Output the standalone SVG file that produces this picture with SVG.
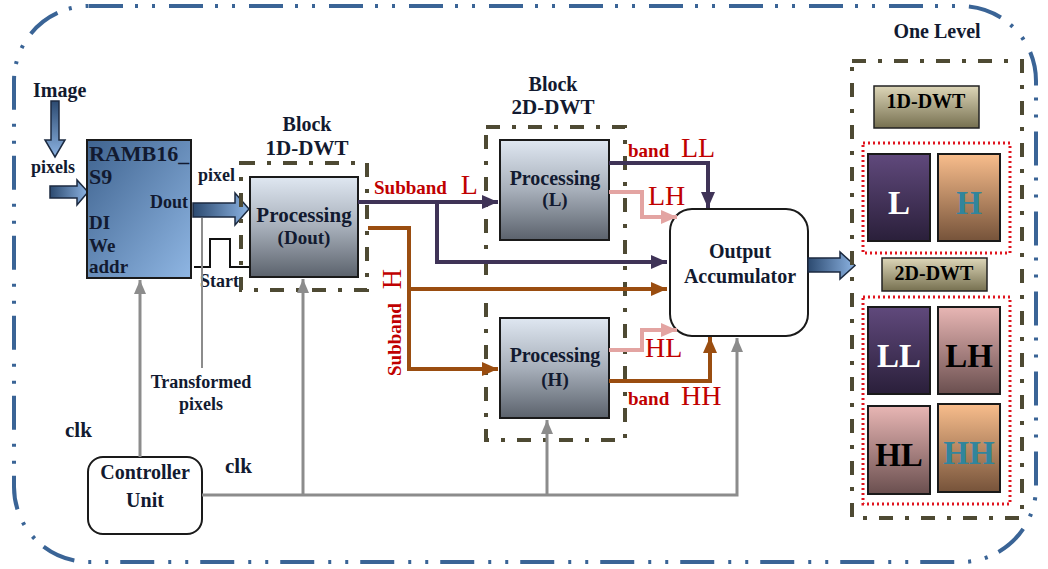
<svg xmlns="http://www.w3.org/2000/svg" width="1048" height="569" viewBox="0 0 1048 569">
<defs>
<linearGradient id="gRam" x1="0" y1="0" x2="1" y2="1"><stop offset="0" stop-color="#3f638f"/><stop offset="1" stop-color="#8fb6e3"/></linearGradient>
<linearGradient id="gArrH" x1="0" y1="0" x2="1" y2="0"><stop offset="0" stop-color="#2c4a70"/><stop offset="1" stop-color="#8cb3e2"/></linearGradient>
<linearGradient id="gArrV" x1="0" y1="0" x2="0" y2="1"><stop offset="0" stop-color="#2c4a70"/><stop offset="1" stop-color="#8cb3e2"/></linearGradient>
<linearGradient id="gProc" x1="0" y1="0" x2="0" y2="1"><stop offset="0" stop-color="#dfe7f1"/><stop offset="0.5" stop-color="#a7afba"/><stop offset="1" stop-color="#5b626c"/></linearGradient>
<linearGradient id="gTan" x1="0" y1="0" x2="0" y2="1"><stop offset="0" stop-color="#ddd6b8"/><stop offset="1" stop-color="#767050"/></linearGradient>
<linearGradient id="gPur" x1="0" y1="0" x2="0" y2="1"><stop offset="0" stop-color="#60497c"/><stop offset="1" stop-color="#2a1f3a"/></linearGradient>
<linearGradient id="gOra" x1="0" y1="0" x2="0" y2="1"><stop offset="0" stop-color="#f8bd8c"/><stop offset="1" stop-color="#76533a"/></linearGradient>
<linearGradient id="gPink" x1="0" y1="0" x2="0" y2="1"><stop offset="0" stop-color="#e8b6b4"/><stop offset="1" stop-color="#6a4f4f"/></linearGradient>
<marker id="mPur" markerUnits="userSpaceOnUse" markerWidth="18" markerHeight="16" refX="16" refY="8" orient="auto"><path d="M0,1 L16,8 L0,15 Z" fill="#3f3357"/></marker>
<marker id="mBrn" markerUnits="userSpaceOnUse" markerWidth="18" markerHeight="16" refX="16" refY="8" orient="auto"><path d="M0,1 L16,8 L0,15 Z" fill="#9a4d10"/></marker>
<marker id="mPnk" markerUnits="userSpaceOnUse" markerWidth="18" markerHeight="16" refX="16" refY="8" orient="auto"><path d="M0,1 L16,8 L0,15 Z" fill="#e3a4a2"/></marker>
<marker id="mGry" markerUnits="userSpaceOnUse" markerWidth="16" markerHeight="14" refX="14" refY="7" orient="auto"><path d="M0,1 L14,7 L0,13 Z" fill="#8c8c8c"/></marker>
</defs>
<style>
text{font-family:"Liberation Serif","Times New Roman",serif;font-weight:bold;fill:#121a30}
.c{text-anchor:middle}
.red{fill:#c00000}
.big{font-size:28px;font-weight:normal}
.wht{fill:#fff}
.blkt{fill:#000}
.teal{fill:#31859c}
.olive{fill:none;stroke:#4e4a33;stroke-width:4;stroke-dasharray:14 12 4 12}
.proc{fill:url(#gProc);stroke:#1a1a1a;stroke-width:2}
.pur{fill:none;stroke:#3f3357;stroke-width:4}
.brn{fill:none;stroke:#9a4d10;stroke-width:4}
.pnk{fill:none;stroke:#e3a4a2;stroke-width:4}
.gry{fill:none;stroke:#8c8c8c;stroke-width:3}
.blk{stroke:#1c2a40;stroke-width:1.5}
.dot{fill:none;stroke:#e0141e;stroke-width:3;stroke-dasharray:2 3}
.cell{stroke:#1a1a1a;stroke-width:2}
</style>

<rect id="frame" x="14" y="6" width="1022" height="556" rx="75" fill="none" stroke="#3a6496" stroke-width="4" stroke-dasharray="34 12 3 14 3 14"/>

<g id="image-input">
<text x="33" y="97" font-size="20">Image</text>
<path class="blk" d="M51,101 H59 V140 H65 L55,157 L45,140 H51 Z" fill="url(#gArrV)"/>
<text x="31" y="173" font-size="18">pixels</text>
<path class="blk" d="M50,186 H77 V180 L88,192 L77,205 V198 H50 Z" fill="url(#gArrH)"/>
</g>

<g id="ramb">
<rect x="87" y="140" width="104" height="138" fill="url(#gRam)" stroke="#1a1a1a" stroke-width="2"/>
<text x="89" y="161" font-size="22">RAMB16_</text>
<text x="89" y="184" font-size="22">S9</text>
<text x="188" y="208" font-size="18" text-anchor="end">Dout</text>
<text x="89" y="229" font-size="19">DI</text>
<text x="89" y="252" font-size="19">We</text>
<text x="89" y="273" font-size="19">addr</text>
</g>

<g id="dout-arrow">
<text x="198" y="181" font-size="18">pixel</text>
<path class="blk" d="M193,203 H235 V193 L249,209 L235,225 V217 H193 Z" fill="url(#gArrH)"/>
<path d="M194,267 H210 V239 H230 V267 H250" fill="none" stroke="#111" stroke-width="2"/>
<text x="200" y="287" font-size="18">Start</text>
<line x1="202" y1="218" x2="202" y2="368" stroke="#8c8c8c" stroke-width="2"/>
<text class="c" x="201" y="388" font-size="18">Transformed</text>
<text class="c" x="201" y="410" font-size="18">pixels</text>
</g>

<g id="block-1d">
<text class="c" x="307" y="131" font-size="20">Block</text>
<text class="c" x="307" y="155" font-size="21">1D-DWT</text>
<rect class="olive" x="241" y="163" width="126" height="127"/>
<rect class="proc" x="250" y="177" width="108" height="100"/>
<text class="c" x="304" y="222" font-size="21">Processing</text>
<text class="c" x="304" y="244" font-size="19">(Dout)</text>
</g>

<g id="block-2d">
<text class="c" x="553" y="91" font-size="20">Block</text>
<text class="c" x="553" y="114" font-size="21">2D-DWT</text>
<rect class="olive" x="486" y="127" width="139" height="313"/>
<g id="proc-l">
<rect class="proc" x="500" y="140" width="109" height="100"/>
<text class="c" x="555" y="185" font-size="20">Processing</text>
<text class="c" x="555" y="206" font-size="19">(L)</text>
</g>
<g id="proc-h">
<rect class="proc" x="500" y="318" width="109" height="100"/>
<text class="c" x="555" y="362" font-size="20">Processing</text>
<text class="c" x="555" y="386" font-size="19">(H)</text>
</g>
</g>

<g id="accumulator">
<rect x="670" y="209" width="138" height="127" rx="22" fill="#fff" stroke="#1a1a1a" stroke-width="2"/>
<text class="c" x="740" y="258" font-size="20">Output</text>
<text class="c" x="740" y="283" font-size="20">Accumulator</text>
<path class="blk" d="M808,258 H840 V252 L855,265.5 L840,279 V272 H808 Z" fill="url(#gArrH)"/>
</g>

<g id="controller">
<rect x="88" y="457" width="114" height="77" rx="15" fill="#fff" stroke="#1a1a1a" stroke-width="2"/>
<text class="c" x="145" y="479" font-size="20">Controller</text>
<text class="c" x="145" y="507" font-size="20">Unit</text>
</g>

<g id="connectors">
<path class="pur" d="M358,202 H498" marker-end="url(#mPur)"/>
<path class="pur" d="M437,202 V262 H667" marker-end="url(#mPur)"/>
<path class="brn" d="M368,228 H409 V369 H498" marker-end="url(#mBrn)"/>
<path class="brn" d="M409,289 H667" marker-end="url(#mBrn)"/>
<path class="pur" d="M609,163 H708 V208" marker-end="url(#mPur)"/>
<path class="pnk" d="M609,192 H642 V217 H677" marker-end="url(#mPnk)"/>
<path class="pnk" d="M609,350 H642 V330 H677" marker-end="url(#mPnk)"/>
<path class="brn" d="M609,381 H710 V337" marker-end="url(#mBrn)"/>
<path class="gry" d="M140,457 V280" marker-end="url(#mGry)"/>
<path class="gry" d="M202,495 H737 V338" marker-end="url(#mGry)"/>
<path class="gry" d="M303,495 V279" marker-end="url(#mGry)"/>
<path class="gry" d="M547,495 V420" marker-end="url(#mGry)"/>
</g>

<g id="labels">
<text class="red" x="374" y="194" font-size="19">Subband <tspan class="big" dx="9">L</tspan></text>
<text class="red" transform="translate(401,376) rotate(-90)" font-size="19">Subband <tspan class="big" dx="9">H</tspan></text>
<text class="red" x="628" y="157" font-size="19">band <tspan class="big" dx="7">LL</tspan></text>
<text class="red big" x="648" y="205">LH</text>
<text class="red big" x="645" y="357">HL</text>
<text class="red" x="628" y="405" font-size="19">band <tspan class="big" dx="7">HH</tspan></text>
<text x="65" y="437" font-size="21">clk</text>
<text x="225" y="473" font-size="21">clk</text>
</g>

<g id="one-level">
<text class="c" x="937" y="38" font-size="20">One Level</text>
<rect class="olive" x="852" y="61" width="170" height="457"/>
<rect x="874" y="86" width="105" height="42" fill="url(#gTan)" stroke="#222" stroke-width="1.5"/>
<text class="c blkt" x="926" y="108" font-size="20">1D-DWT</text>
<rect class="dot" x="863" y="143" width="147" height="110"/>
<rect class="cell" x="868" y="154" width="62" height="87" fill="url(#gPur)"/>
<text class="c wht" x="899" y="214" font-size="33">L</text>
<rect class="cell" x="938" y="154" width="62" height="87" fill="url(#gOra)"/>
<text class="c teal" x="969" y="214" font-size="33">H</text>
<rect x="882" y="258" width="105" height="33" fill="url(#gTan)" stroke="#222" stroke-width="1.5"/>
<text class="c blkt" x="934" y="280" font-size="20">2D-DWT</text>
<rect class="dot" x="863" y="297" width="147" height="207"/>
<rect class="cell" x="868" y="307" width="62" height="87" fill="url(#gPur)"/>
<text class="c wht" x="899" y="367" font-size="33">LL</text>
<rect class="cell" x="938" y="307" width="62" height="87" fill="url(#gPink)"/>
<text class="c blkt" x="969" y="367" font-size="33">LH</text>
<rect class="cell" x="868" y="406" width="62" height="88" fill="url(#gPink)"/>
<text class="c blkt" x="899" y="466" font-size="33">HL</text>
<rect class="cell" x="938" y="404" width="62" height="88" fill="url(#gOra)"/>
<text class="c teal" x="969" y="464" font-size="33">HH</text>
</g>
</svg>
